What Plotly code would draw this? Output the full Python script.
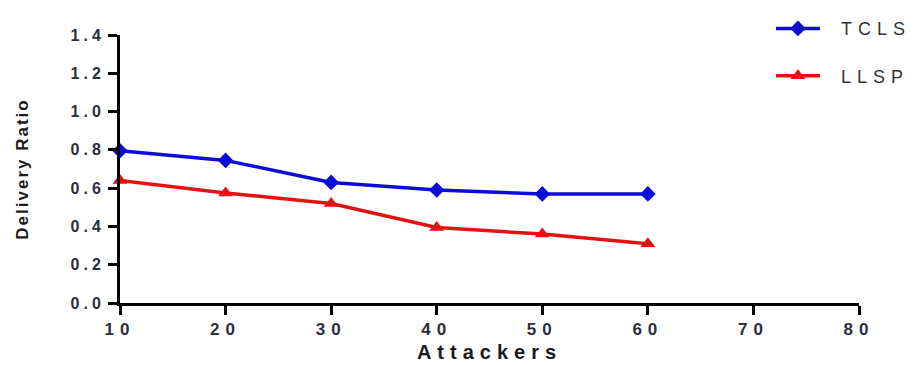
import plotly.graph_objects as go

attackers = [10, 20, 30, 40, 50, 60]
tcls = [0.795, 0.745, 0.63, 0.59, 0.57, 0.57]
llsp = [0.64, 0.575, 0.52, 0.395, 0.36, 0.31]
x_ticks = [10, 20, 30, 40, 50, 60, 70, 80]
y_ticks = [0.0, 0.2, 0.4, 0.6, 0.8, 1.0, 1.2, 1.4]

BLUE = "#0c0cd8"
RED = "#e41212"

fig = go.Figure()
fig.add_trace(go.Scatter(
    x=attackers, y=tcls, name="TCLS", mode="lines+markers",
    line=dict(color=BLUE, width=3.5),
    marker=dict(symbol="diamond", size=12, color=BLUE),
    cliponaxis=False, legendgroup="a"))
fig.add_trace(go.Scatter(
    x=attackers, y=llsp, name="LLSP", mode="lines+markers",
    line=dict(color=RED, width=3.5),
    marker=dict(symbol="triangle-up", size=13, color=RED),
    cliponaxis=False, legendgroup="b"))

narrow = "Liberation Sans Narrow, Arial Narrow, Liberation Sans, Arial, sans-serif"
regular = "Liberation Sans, Arial, sans-serif"
fig.update_layout(
    width=914, height=365,
    margin=dict(l=120, r=55, t=35, b=62, autoexpand=False),
    paper_bgcolor="white", plot_bgcolor="white",
    font=dict(family=regular, color="#222"),
    showlegend=True,
    legend=dict(x=0.8435, y=0.972, xref="container", yref="container",
                xanchor="left", yanchor="top",
                tracegroupgap=21, itemwidth=44,
                font=dict(size=18, family=regular, color="#333"),
                bgcolor="rgba(0,0,0,0)"),
    xaxis=dict(range=[10, 80], tickvals=x_ticks, automargin=False,
               ticktext=[f"<b>{v}</b>" for v in x_ticks],
               showgrid=False, zeroline=False,
               showline=True, linecolor="black", linewidth=3,
               ticks="outside", ticklen=9, tickwidth=3, tickcolor="black",
               tickfont=dict(size=17, family=narrow, color="#2a2f3a"),
               title=dict(text="<b>Attackers</b>", font=dict(size=20, family=narrow, color="#1a1a1a"), standoff=7)),
    yaxis=dict(range=[0, 1.4], tickvals=y_ticks, automargin=False,
               ticktext=[f"<b>{v:.1f}</b>" for v in y_ticks],
               showgrid=False, zeroline=False,
               showline=True, linecolor="black", linewidth=3,
               ticks="outside", ticklen=9, tickwidth=3, tickcolor="black",
               tickfont=dict(size=16, family=narrow, color="#2a2f3a"),
               title=dict(text="<b>Delivery Ratio</b>", font=dict(size=17, family=regular, color="#1a1a1a"), standoff=50)),
)

css = (
    "body{margin:0 !important;}"
    ".legend .scrollbox{clip-path:none !important;}"
    ".legendtext{letter-spacing:6px;transform:translateX(16px);}"
    ".xtick text{letter-spacing:6px;}"
    ".ytick text{letter-spacing:4px;}"
    ".g-xtitle text{letter-spacing:6px;}"
    ".g-ytitle text{letter-spacing:2px;}"
)
post = "var s=document.createElement('style');s.innerHTML='" + css + "';document.head.appendChild(s);"

fig.write_html("out.html", post_script=post, config={"displayModeBar": False})
